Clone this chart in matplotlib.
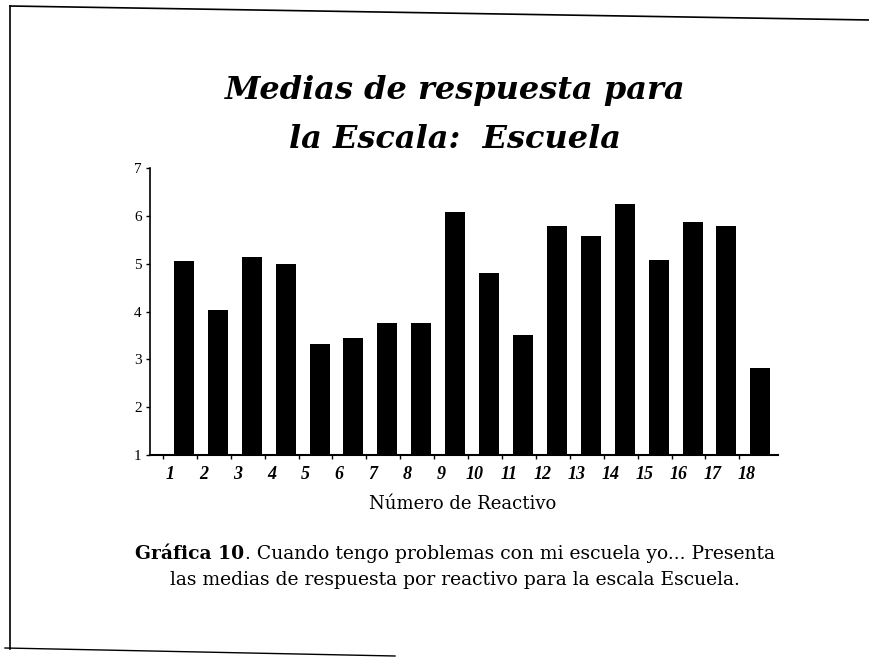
import matplotlib.pyplot as plt
from matplotlib.lines import Line2D
import numpy as np

# valores
reactivos = [str(i) for i in range(1, 19)]
medias = [5.06, 4.03, 5.14, 5.0, 3.32, 3.44, 3.77, 3.77, 6.09,
          4.80, 3.50, 5.78, 5.57, 6.24, 5.08, 5.88, 5.79, 2.82]
y_ticks = [1, 2, 3, 4, 5, 6, 7]

W, H = 870, 658
fig = plt.figure(figsize=(W / 100, H / 100), dpi=100)
serif = ['Liberation Serif', 'DejaVu Serif']
wide = ['DejaVu Serif']


def px(x, y):
    return x / W, 1 - y / H


# marco escaneado (ligeramente inclinado)
fig.add_artist(Line2D([10 / W, 10 / W], [1 - 6 / H, 1 - 649 / H], color='black', lw=1.2,
                      transform=fig.transFigure))
fig.add_artist(Line2D([10 / W, 1.0], [1 - 6 / H, 1 - 20 / H], color='black', lw=1.2,
                      transform=fig.transFigure))
fig.add_artist(Line2D([5 / W, 395 / W], [1 - 648 / H, 1 - 656 / H], color='black', lw=1.0,
                      transform=fig.transFigure))

# título
fig.text(*px(455, 90), 'Medias de respuesta para', ha='center', va='center',
         fontsize=23, fontweight='bold', fontstyle='italic', family=wide)
fig.text(*px(455, 139), 'la Escala:  Escuela', ha='center', va='center',
         fontsize=23, fontweight='bold', fontstyle='italic', family=wide)

ax = fig.add_axes([150 / W, 1 - 455 / H, 628 / W, 287 / H])
x = np.arange(1, len(medias) + 1)
ax.bar(x, np.array(medias) - 1, bottom=1, width=0.59, color='black')

ax.set_xlim(0, 18.52)
ax.set_ylim(1, 7)
ax.set_yticks(y_ticks)
ax.set_yticklabels([str(v) for v in y_ticks], family=serif, fontsize=11)
ax.tick_params(axis='y', length=3, width=1, pad=3)

# marcas entre categorías y etiquetas desplazadas (efecto 3D del original)
ax.set_xticks(x - 0.62, minor=True)
ax.set_xticks(x - 0.42)
ax.set_xticklabels(reactivos, family=serif, fontsize=13, fontweight='bold', fontstyle='italic')
ax.tick_params(axis='x', which='major', length=0, pad=8)
ax.tick_params(axis='x', which='minor', length=3, width=1)

for s in ['top', 'right']:
    ax.spines[s].set_visible(False)
ax.spines['left'].set_linewidth(1.2)
ax.spines['bottom'].set_linewidth(1.5)

fig.text(*px(463, 504), 'Número de Reactivo', ha='center', va='center',
         fontsize=13, family=wide)

# pie de figura con parte en negrita
fig.canvas.draw()
r = fig.canvas.get_renderer()
t1 = fig.text(0, 0, 'Gráfica 10', fontsize=13.5, fontweight='bold', family=wide)
t2 = fig.text(0, 0, '. Cuando tengo problemas con mi escuela yo... Presenta',
              fontsize=13.5, family=wide)
w1 = t1.get_window_extent(r).width
w2 = t2.get_window_extent(r).width
x0 = 455 - (w1 + w2) / 2
yb = 1 - 559 / H
t1.set_position((x0 / W, yb))
t2.set_position(((x0 + w1) / W, yb))
fig.text(*px(455, 580), 'las medias de respuesta por reactivo para la escala Escuela.',
         ha='center', va='center', fontsize=13.5, family=wide)

fig.savefig('out.png', dpi=100)
